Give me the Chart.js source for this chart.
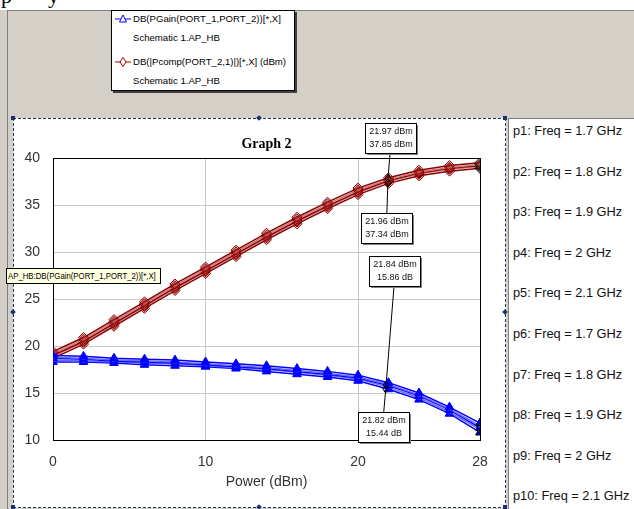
<!DOCTYPE html>
<html>
<head>
<meta charset="utf-8">
<script src="https://cdn.jsdelivr.net/npm/chart.js@4"></script>
<style>
  html, body { margin: 0; padding: 0; }
  body { width: 634px; height: 509px; overflow: hidden; position: relative; background: #d4d0c8; font-family: "Liberation Sans", Arial, sans-serif; }
  .abs { position: absolute; }
  #topStrip { left: 0; top: 0; width: 634px; height: 10px; background: #fff; overflow: hidden; }
  #topStrip span { position: absolute; top: -15px; font: 22px/22px "Liberation Serif", serif; color: #000; }
  #frameV { left: 7px; top: 10px; width: 1px; height: 499px; background: #808080; }
  #frameH { left: 7px; top: 10px; width: 627px; height: 1px; background: #808080; }
  #legendBox { left: 111px; top: 10px; width: 182px; height: 79px; background: #fff; border: 1px solid #000; box-shadow: 2px 2px 0 #404040; }
  .legText { position: absolute; left: 21px; font-size: 9.6px; line-height: 12px; color: #000; white-space: nowrap; }
  .legLine { position: absolute; left: 3px; }
  #graphPanel { left: 13px; top: 118px; width: 493px; height: 390px; box-sizing: border-box; background: #fff; border: 1px dashed #1a2f6e; }
  .handle { position: absolute; width: 4px; height: 4px; background: #1a2f6e; }
  .diamond { transform: rotate(45deg); width: 4px; height: 4px; }
  #sidePanel { left: 508px; top: 118px; width: 126px; height: 391px; box-sizing: border-box; background: #fff; border-left: 1px solid #808080; border-top: 1px solid #808080; }
  .sideText { position: absolute; left: 4px; font-size: 12.8px; line-height: 16px; color: #111; white-space: nowrap; }
  #tip { left: 6px; top: 268px; width: 155px; height: 16px; box-sizing: border-box; background: #ffffe1; border: 1px solid #000; font-size: 9.5px; line-height: 14px; padding-left: 1px; white-space: nowrap; z-index: 3; color: #000; overflow: hidden; }
  #tip span { display: inline-block; transform: scaleX(0.82); transform-origin: left center; }
  #chartCanvas { position: absolute; left: 0; top: 0; z-index: 2; }
</style>
</head>
<body>
<div id="topStrip" class="abs"><span style="left:1px">p</span><span style="left:48px">y</span></div>
<div id="frameV" class="abs"></div>
<div id="frameH" class="abs"></div>

<div id="legendBox" class="abs">
  <svg class="legLine" style="top:3px" width="16" height="10"><line x1="0" y1="5" x2="16" y2="5" stroke="#0000ff" stroke-width="1"/><polygon points="8,1 11.5,8 4.5,8" fill="#fff" stroke="#0000ff" stroke-width="1"/></svg>
  <div class="legText" style="top:2px">DB(PGain(PORT_1,PORT_2))[*,X]</div>
  <div class="legText" style="top:21px">Schematic 1.AP_HB</div>
  <svg class="legLine" style="top:46px" width="16" height="10"><line x1="0" y1="5" x2="16" y2="5" stroke="#a00000" stroke-width="1"/><polygon points="8,0.5 11,5 8,9.5 5,5" fill="#fff" stroke="#a00000" stroke-width="1"/></svg>
  <div class="legText" style="top:45px">DB(|Pcomp(PORT_2,1)|)[*,X] (dBm)</div>
  <div class="legText" style="top:64px">Schematic 1.AP_HB</div>
</div>

<div id="graphPanel" class="abs"></div>
<div class="handle abs" style="left:11px;top:116px"></div>
<div class="handle abs diamond" style="left:257px;top:116px"></div>
<div class="handle abs" style="left:503px;top:116px"></div>
<div class="handle abs diamond" style="left:11px;top:310px"></div>
<div class="handle abs diamond" style="left:503px;top:310px"></div>
<div class="handle abs" style="left:11px;top:505px"></div>
<div class="handle abs diamond" style="left:257px;top:505px"></div>
<div class="handle abs" style="left:503px;top:505px"></div>

<div id="sidePanel" class="abs"></div>

<div id="tip" class="abs"><span>AP_HB:DB(PGain(PORT_1,PORT_2))[*,X]</span></div>

<canvas id="chartCanvas" width="634" height="509"></canvas>

<script>
// Data
var powerDbm = [0, 2, 4, 6, 8, 10, 12, 14, 16, 18, 20, 22, 24, 26, 28];
var xTickValues = [0, 10, 20, 28];
var freqNames = ['p1: Freq = 1.7 GHz', 'p2: Freq = 1.8 GHz', 'p3: Freq = 1.9 GHz', 'p4: Freq = 2 GHz', 'p5: Freq = 2.1 GHz',
                 'p6: Freq = 1.7 GHz', 'p7: Freq = 1.8 GHz', 'p8: Freq = 1.9 GHz', 'p9: Freq = 2 GHz', 'p10: Freq = 2.1 GHz'];

// DB(PGain) per frequency
var gain17 = [19.0, 18.9, 18.7, 18.6, 18.5, 18.3, 18.1, 17.9, 17.6, 17.3, 16.9, 16.1, 15.0, 13.5, 11.8];
var gain18 = [18.8, 18.7, 18.5, 18.4, 18.3, 18.1, 17.9, 17.7, 17.4, 17.1, 16.7, 15.9, 14.8, 13.3, 11.5];
var gain19 = [18.7, 18.6, 18.4, 18.3, 18.2, 18.0, 17.8, 17.6, 17.3, 17.0, 16.6, 15.8, 14.7, 13.2, 11.3];
var gain20 = [18.5, 18.4, 18.3, 18.2, 18.1, 17.9, 17.7, 17.5, 17.2, 16.9, 16.5, 15.6, 14.5, 13.0, 11.1];
var gain21 = [18.3, 18.3, 18.2, 18.0, 17.9, 17.8, 17.6, 17.3, 17.0, 16.7, 16.3, 15.4, 14.3, 12.8, 10.8];

// DB(|Pcomp|) per frequency
var pout17 = [19.4, 20.9, 22.8, 24.7, 26.6, 28.4, 30.2, 32.0, 33.7, 35.3, 36.8, 37.9, 38.7, 39.2, 39.5];
var pout18 = [19.2, 20.7, 22.6, 24.5, 26.4, 28.2, 30.0, 31.8, 33.5, 35.1, 36.6, 37.7, 38.5, 39.0, 39.3];
var pout19 = [19.0, 20.5, 22.4, 24.3, 26.2, 28.0, 29.8, 31.6, 33.3, 34.9, 36.4, 37.6, 38.4, 38.9, 39.2];
var pout20 = [18.9, 20.4, 22.3, 24.2, 26.1, 27.9, 29.7, 31.5, 33.2, 34.8, 36.3, 37.5, 38.3, 38.8, 39.1];
var pout21 = [18.7, 20.2, 22.1, 24.0, 25.9, 27.7, 29.5, 31.3, 33.0, 34.6, 36.1, 37.3, 38.1, 38.6, 38.9];

// marker readouts
var markerPower = [21.97, 21.96, 21.84, 21.82];
var markerValue = [37.85, 37.34, 15.86, 15.44];
var markerUnit = ['dBm', 'dBm', 'dB', 'dB'];

// side panel text
var side = document.getElementById('sidePanel');
freqNames.forEach(function(t, i) {
    var d = document.createElement('div');
    d.className = 'sideText';
    d.style.top = (130 - 118 - 8 + i * 40.6) + 'px';
    d.textContent = t;
    side.appendChild(d);
});

function toPoints(arr) {
    return powerDbm.map(function(p, i) { return { x: p, y: arr[i] }; });
}

var last = powerDbm.length - 1;
var gainSets = [gain17, gain18, gain19, gain20, gain21];
var poutSets = [pout17, pout18, pout19, pout20, pout21];
var datasets = [];

gainSets.forEach(function(arr, k) {
    var col = k % 2 === 0 ? '#0000ff' : '#6a6aff';
    datasets.push({
        data: toPoints(arr),
        borderColor: col,
        borderWidth: 1.5,
        tension: 0,
        pointStyle: k % 2 === 0 ? 'triangle' : 'rect',
        pointRadius: k % 2 === 0 ? 5 : 3.5,
        pointBackgroundColor: k % 2 === 0 ? '#0000ff' : 'rgba(120,120,255,0.35)',
        pointBorderColor: function(c) { return c.dataIndex === last ? '#000' : '#0000ff'; },
        pointBorderWidth: 1
    });
});

poutSets.forEach(function(arr, k) {
    var col = k % 2 === 0 ? '#8b0000' : '#c87878';
    datasets.push({
        data: toPoints(arr),
        borderColor: col,
        borderWidth: 1.5,
        tension: 0,
        pointStyle: 'rectRot',
        pointRadius: 5,
        pointBackgroundColor: 'rgba(180,60,60,0.3)',
        pointBorderColor: function(c) { return c.dataIndex === last ? '#000' : '#8b0000'; },
        pointBorderWidth: 1
    });
});

var markerPlugin = {
    id: 'markerBoxes',
    afterDatasetsDraw: function(chart, args, opts) {
        var ctx = chart.ctx, xs = chart.scales.x, ys = chart.scales.y;
        var w = 51, h = 30;
        ctx.save();
        markerPower.forEach(function(p, i) {
            var px = xs.getPixelForValue(p), py = ys.getPixelForValue(markerValue[i]);
            var bx = px + opts.offsets[i][0], by = py + opts.offsets[i][1];
            var edgeY = opts.offsets[i][1] < 0 ? by + h / 2 : by - h / 2;
            ctx.strokeStyle = '#000';
            ctx.lineWidth = 1;
            ctx.beginPath();
            ctx.moveTo(px, py);
            ctx.lineTo(bx, edgeY);
            ctx.stroke();
            // point symbol
            ctx.beginPath();
            ctx.moveTo(px, py - 4); ctx.lineTo(px + 3, py); ctx.lineTo(px, py + 4); ctx.lineTo(px - 3, py); ctx.closePath();
            ctx.stroke();
            // box
            var l = Math.round(bx - w / 2) + 0.5, t = Math.round(by - h / 2) + 0.5;
            ctx.fillStyle = '#808080';
            ctx.fillRect(l + 1.5, t + 1.5, w, h);
            ctx.fillStyle = '#fff';
            ctx.fillRect(l, t, w, h);
            ctx.strokeRect(l, t, w, h);
            ctx.fillStyle = '#111';
            ctx.font = '9px "Liberation Sans"';
            ctx.textAlign = 'center';
            ctx.textBaseline = 'middle';
            ctx.fillText(p.toFixed(2) + ' dBm', l + w / 2, t + 8.5);
            ctx.fillText(markerValue[i].toFixed(2) + ' ' + markerUnit[i], l + w / 2, t + 21.5);
        });
        ctx.restore();
    }
};

Chart.defaults.font.family = '"Liberation Sans", Arial, sans-serif';

var ctx = document.getElementById('chartCanvas').getContext('2d');
var chart = new Chart(ctx, {
    type: 'line',
    data: { datasets: datasets },
    plugins: [markerPlugin],
    options: {
        responsive: false,
        animation: false,
        events: [],
        layout: { padding: { left: 13, right: 154, top: 0, bottom: 0 } },
        plugins: {
            legend: { display: false },
            tooltip: { enabled: false },
            title: {
                display: true,
                text: 'Graph 2',
                fullSize: false,
                color: '#000',
                font: { family: '"Liberation Serif", serif', size: 14, weight: 'bold' },
                padding: { top: 135.6, bottom: 5.6 }
            },
            markerBoxes: { offsets: [[2, -40], [-1, 45], [8, -114], [-2, 38]] }
        },
        scales: {
            x: {
                type: 'linear',
                min: 0,
                max: 28,
                afterBuildTicks: function(scale) {
                    scale.ticks = xTickValues.map(function(v) { return { value: v }; });
                },
                afterFit: function(scale) { scale.height = 69; },
                grid: {
                    drawTicks: false,
                    color: function(c) { return (c.tick && (c.tick.value === 0 || c.tick.value === 28)) ? '#000' : '#c8c8c8'; }
                },
                border: { color: '#000', width: 1 },
                ticks: { color: '#333', font: { size: 14 }, padding: 14, maxRotation: 0 },
                title: { display: true, text: 'Power (dBm)', color: '#333', font: { size: 14 }, padding: { top: 0, bottom: 18.6 } }
            },
            y: {
                min: 10,
                max: 40,
                afterFit: function(scale) { scale.width = 40; },
                grid: {
                    drawTicks: false,
                    color: function(c) { return (c.tick && (c.tick.value === 40 || c.tick.value === 10)) ? '#000' : '#c8c8c8'; }
                },
                border: { color: '#000', width: 1 },
                ticks: { stepSize: 5, color: '#333', font: { size: 14 }, padding: 13 }
            }
        }
    }
});
</script>
</body>
</html>
